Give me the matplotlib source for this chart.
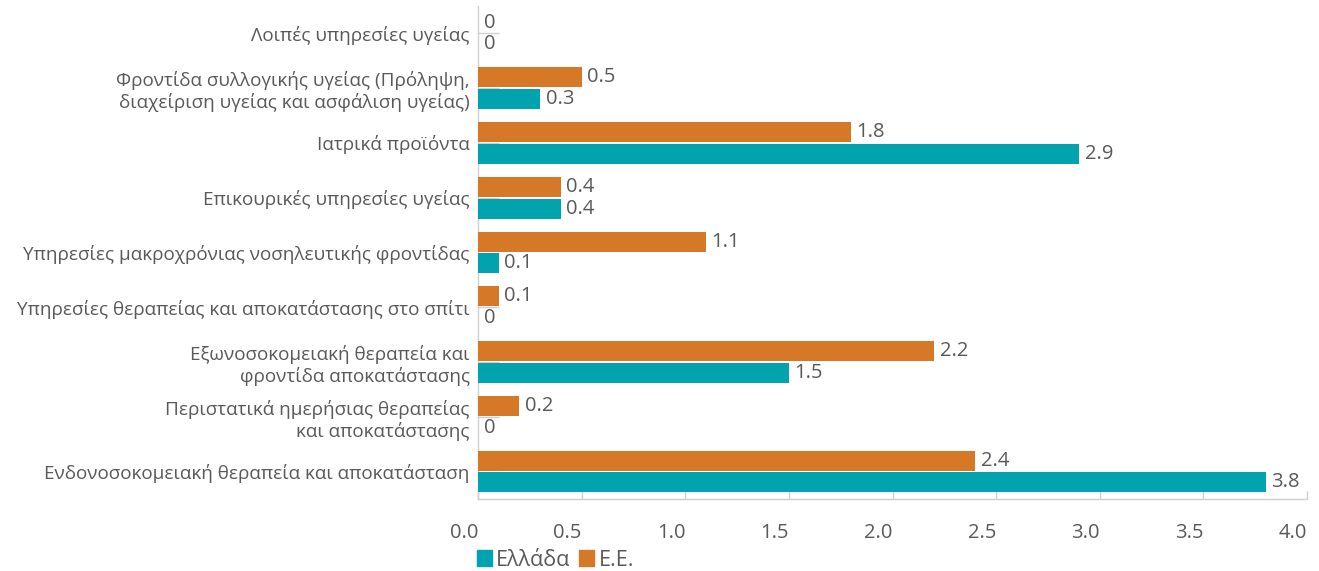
import matplotlib
matplotlib.use("Agg")
import matplotlib.pyplot as plt
import numpy as np
from matplotlib.patches import Patch

plt.rcParams['font.family'] = ['Open Sans', 'Noto Sans', 'DejaVu Sans']

# categories, bottom to top
categories = [
    "Ενδονοσοκομειακή θεραπεία και αποκατάσταση",
    "Περιστατικά ημερήσιας θεραπείας\nκαι αποκατάστασης",
    "Εξωνοσοκομειακή θεραπεία και\nφροντίδα αποκατάστασης",
    "Υπηρεσίες θεραπείας και αποκατάστασης στο σπίτι",
    "Υπηρεσίες μακροχρόνιας νοσηλευτικής φροντίδας",
    "Επικουρικές υπηρεσίες υγείας",
    "Ιατρικά προϊόντα",
    "Φροντίδα συλλογικής υγείας (Πρόληψη,\nδιαχείριση υγείας και ασφάλιση υγείας)",
    "Λοιπές υπηρεσίες υγείας",
]
greece = [3.8, 0, 1.5, 0, 0.1, 0.4, 2.9, 0.3, 0]
eu = [2.4, 0.2, 2.2, 0.1, 1.1, 0.4, 1.8, 0.5, 0]
xticks = [0.0, 0.5, 1.0, 1.5, 2.0, 2.5, 3.0, 3.5, 4.0]

teal = '#00A3AE'
orange = '#D57828'
grey_text = '#595959'
axis_grey = '#D0D0D0'

W, H = 1319, 571
fig = plt.figure(figsize=(W / 100, H / 100), dpi=100)
ax = fig.add_axes([478 / W, (H - 499) / H, (1307 - 478) / W, (499 - 6) / H])

y = np.arange(len(categories))
off = 0.198
bh = 0.365

b_gr = ax.barh(y - off, greece, height=bh, color=teal, zorder=3)
b_eu = ax.barh(y + off, eu, height=bh, color=orange, zorder=3)

def fmt(v):
    return '0' if v == 0 else f'{v:.1f}'

ax.bar_label(b_gr, labels=[fmt(v) for v in greece], padding=4, fontsize=14.5, color=grey_text)
ax.bar_label(b_eu, labels=[fmt(v) for v in eu], padding=4, fontsize=14.5, color=grey_text)

ax.set_xlim(0, 4.0)
ax.set_ylim(-0.5, len(categories) - 0.5)
ax.set_xticks(xticks)
ax.set_xticklabels([f'{t:.1f}' for t in xticks], ha='right')
ax.set_yticks(y)
ax.set_yticklabels(categories, ha='right', multialignment='right')

ax.tick_params(axis='x', direction='in', length=6, width=1, color=axis_grey,
               labelsize=14.5, labelcolor=grey_text, pad=17)
ax.tick_params(axis='y', direction='in', length=15, width=1, color=axis_grey,
               labelsize=13.6, labelcolor=grey_text, pad=6)

for s in ['top', 'right']:
    ax.spines[s].set_visible(False)
for s in ['left', 'bottom']:
    ax.spines[s].set_color(axis_grey)
    ax.spines[s].set_linewidth(1)

handles = [Patch(color=teal, label='Ελλάδα'), Patch(color=orange, label='Ε.Ε.')]
fig.legend(handles=handles, loc='center left', bbox_to_anchor=(477 / W, (H - 560) / H),
           ncol=2, frameon=False, fontsize=15.5, handlelength=0.7, handleheight=0.7,
           handletextpad=0.2, columnspacing=0.4, borderpad=0, borderaxespad=0,
           labelcolor=grey_text)

fig.savefig('out.png', dpi=100)
